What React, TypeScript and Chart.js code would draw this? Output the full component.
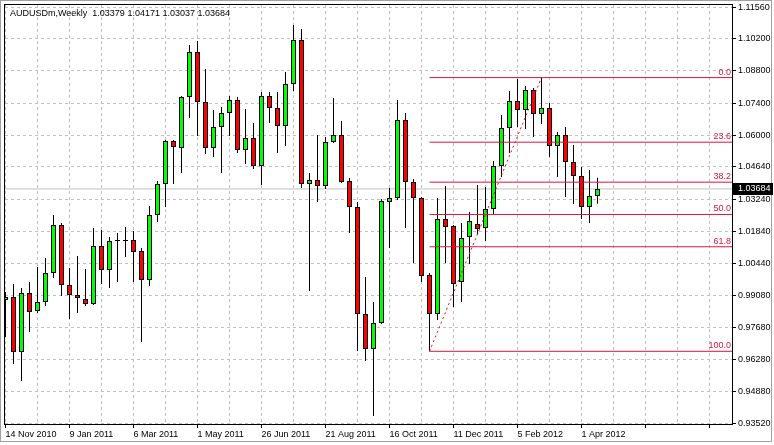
import React, { useEffect, useRef } from 'react';
import { Chart, registerables } from 'chart.js';

Chart.register(...registerables);

const symbolTitle = 'AUDUSDm,Weekly';
const xTickLabels = ['14 Nov 2010', '9 Jan 2011', '6 Mar 2011', '1 May 2011', '26 Jun 2011', '21 Aug 2011', '16 Oct 2011', '11 Dec 2011', '5 Feb 2012', '1 Apr 2012'];
const yTickValues = [1.1156, 1.102, 1.088, 1.074, 1.06, 1.0464, 1.0324, 1.0184, 1.0044, 0.9908, 0.9768, 0.9628, 0.9488, 0.9352];

const opens = [
  0.98867, 0.98997, 0.96612, 0.99171, 0.98390, 0.98781, 1.00038, 1.02120, 0.99518, 0.99084,
  0.98911, 0.98694, 1.01209, 1.00168, 1.01426, 1.01426, 1.01469, 1.00992, 0.99735, 1.02553,
  1.03898, 1.05762, 1.05459, 1.07671, 1.09622, 1.07454, 1.05459, 1.06370, 1.06977, 1.07540,
  1.05372, 1.05893, 1.04678, 1.07714, 1.07194, 1.06413, 1.08234, 1.10142, 1.03898, 1.04071,
  1.03811, 1.05719, 1.06023, 1.04028, 1.02900, 0.98260, 0.96742, 0.97870, 1.03117, 1.03291,
  1.06673, 1.03984, 1.03291, 0.99951, 0.98260, 1.02380, 1.02076, 0.99648, 1.01599, 1.02163,
  1.01990, 1.02814, 1.04678, 1.06326, 1.07497, 1.07107, 1.07974, 1.06933, 1.07194, 1.05546,
  1.06023, 1.04852, 1.04245, 1.02900, 1.03379,
];
const highs = [
  0.99214, 0.99561, 0.99388, 0.99648, 1.00298, 1.00689, 1.02553, 1.02206, 1.00255, 1.00775,
  1.00212, 1.01990, 1.01903, 1.01599, 1.01773, 1.02033, 1.01860, 1.01122, 1.02944, 1.04028,
  1.05806, 1.05806, 1.07714, 1.09926, 1.10099, 1.08885, 1.07107, 1.07237, 1.07714, 1.07671,
  1.07150, 1.06543, 1.07887, 1.07887, 1.07887, 1.08755, 1.10793, 1.10619, 1.04375, 1.06023,
  1.05936, 1.07627, 1.06630, 1.04158, 1.03117, 0.99865, 0.98781, 1.03247, 1.03724, 1.07540,
  1.06977, 1.04115, 1.03334, 1.00038, 1.03291, 1.03811, 1.02120, 1.02206, 1.02683, 1.03854,
  1.03768, 1.04895, 1.06890, 1.07931, 1.08451, 1.08148, 1.08061, 1.08511, 1.07410, 1.06153,
  1.06370, 1.05589, 1.04635, 1.04505, 1.04171,
];
const lows = [
  0.97263, 0.96092, 0.95355, 0.97480, 0.98303, 0.98607, 0.99821, 0.99041, 0.98043, 0.98303,
  0.98607, 0.98650, 0.99561, 0.99388, 0.99648, 1.00732, 0.99648, 0.97046, 0.99474, 1.02250,
  1.02900, 1.03898, 1.04375, 1.06760, 1.05979, 1.05199, 1.05069, 1.04375, 1.05979, 1.05242,
  1.04765, 1.04548, 1.03854, 1.06543, 1.05242, 1.05546, 1.07931, 1.03724, 0.99258, 1.03117,
  1.03681, 1.05676, 1.03941, 1.01773, 0.96656, 0.96222, 0.93837, 0.97826, 1.01122, 1.03204,
  1.01990, 1.00472, 0.99648, 0.96642, 0.98000, 1.00472, 0.98564, 0.98781, 1.00428, 1.01729,
  1.01426, 1.02553, 1.04201, 1.05242, 1.06370, 1.06283, 1.05936, 1.06500, 1.05069, 1.04201,
  1.03334, 1.03030, 1.02380, 1.02206, 1.03037,
];
const closes = [
  0.98997, 0.96612, 0.99171, 0.98347, 0.98781, 1.00038, 1.02120, 0.99518, 0.99084, 0.98954,
  0.98694, 1.01209, 1.00168, 1.01426, 1.01426, 1.01426, 1.00949, 0.99735, 1.02553, 1.03898,
  1.05762, 1.05502, 1.07671, 1.09622, 1.07454, 1.05459, 1.06370, 1.06977, 1.07540, 1.05372,
  1.05893, 1.04678, 1.07714, 1.07194, 1.06413, 1.08234, 1.10142, 1.03898, 1.04071, 1.03811,
  1.05719, 1.06023, 1.03984, 1.02900, 0.98260, 0.96742, 0.97870, 1.03160, 1.03291, 1.06673,
  1.03984, 1.03291, 0.99908, 0.98260, 1.02380, 1.02033, 0.99561, 1.01556, 1.02293, 1.01946,
  1.02814, 1.04678, 1.06326, 1.07497, 1.07107, 1.07974, 1.06933, 1.07194, 1.05546, 1.06023,
  1.04852, 1.04245, 1.02900, 1.03377, 1.03684,
];

const fibLevels = [0, 23.6, 38.2, 50, 61.8, 100];
const fibLowIndex = 53;
const fibHighIndex = 67;

const X_MIN = -0.1875;
const X_MAX = 90.9375;
const Y_MIN = 0.934896;
const Y_MAX = 1.117031;

const UP = '#00ff00';
const DOWN = '#ff0000';
const FIB = '#dc143c';
const GRID = '#c0c0c0';
const FONT = '"Liberation Sans", Arial, sans-serif';

export default function App() {
  const ref = useRef<HTMLCanvasElement>(null);

  useEffect(() => {
    const canvas = ref.current;
    if (!canvas) return;
    const idx = opens.map((_, i) => i);
    const bodyData = idx.map((i) => ({ x: i, y: [opens[i], closes[i]] }));
    const wickData = idx.map((i) => ({ x: i, y: [lows[i], highs[i]] }));
    const bodyColors = idx.map((i) => (closes[i] >= opens[i] ? UP : DOWN));
    const fibHigh = highs[fibHighIndex];
    const fibLow = lows[fibLowIndex];
    const fibValues = fibLevels.map((p) => fibHigh - (p / 100) * (fibHigh - fibLow));
    const last = opens.length - 1;
    const lastClose = closes[last];
    const xGrid: number[] = [];
    for (let k = 0; k * 4 <= X_MAX; k++) xGrid.push(k * 4);

    const overlay = {
      id: 'mt4overlay',
      beforeDraw(chart: any) {
        const ctx = chart.ctx;
        ctx.save();
        ctx.fillStyle = '#ffffff';
        ctx.fillRect(0, 0, chart.width, chart.height);
        ctx.strokeStyle = '#a0a0a0';
        ctx.lineWidth = 1;
        ctx.strokeRect(0.5, 0.5, 771, 441);
        ctx.restore();
      },
      beforeDatasetsDraw(chart: any) {
        const ctx = chart.ctx;
        const a = chart.chartArea;
        const xs = chart.scales.x;
        const ys = chart.scales.y;
        ctx.save();
        ctx.lineWidth = 1;
        ctx.strokeStyle = GRID;
        ctx.setLineDash([3, 3]);
        ctx.beginPath();
        xs.ticks.forEach((t: any) => {
          const px = Math.floor(xs.getPixelForValue(t.value)) + 0.5;
          ctx.moveTo(px, a.top + 1);
          ctx.lineTo(px, a.bottom);
        });
        ys.ticks.forEach((t: any) => {
          const py = Math.round(ys.getPixelForValue(t.value) - 0.5) + 0.5;
          ctx.moveTo(a.left + 1, py);
          ctx.lineTo(a.right - 1, py);
        });
        ctx.stroke();
        ctx.setLineDash([]);
        ctx.strokeStyle = '#000';
        ctx.beginPath();
        xs.ticks.forEach((t: any) => {
          if (t.value % 8 !== 0) return;
          const px = Math.floor(xs.getPixelForValue(t.value)) + 0.5;
          ctx.moveTo(px, a.bottom);
          ctx.lineTo(px, a.bottom + 4);
        });
        ys.ticks.forEach((t: any) => {
          const py = Math.round(ys.getPixelForValue(t.value) - 0.5) + 0.5;
          ctx.moveTo(a.right, py);
          ctx.lineTo(a.right + 3, py);
        });
        ctx.stroke();
        ctx.restore();
      },
      afterDatasetsDraw(chart: any) {
        const ctx = chart.ctx;
        const a = chart.chartArea;
        const ys = chart.scales.y;
        ctx.save();
        ctx.strokeStyle = '#000';
        ctx.lineWidth = 1;
        ctx.strokeRect(a.left + 0.5, a.top + 0.5, a.right - a.left - 1, a.bottom - a.top);
        ctx.font = '9px ' + FONT;
        ctx.fillStyle = FIB;
        ctx.textAlign = 'right';
        ctx.textBaseline = 'alphabetic';
        fibLevels.forEach((p, i) => {
          const y = ys.getPixelForValue(fibValues[i]);
          ctx.fillText(p.toFixed(1), a.right - 2, y - 3);
        });
        ctx.restore();
      },
      afterDraw(chart: any) {
        const ctx = chart.ctx;
        const a = chart.chartArea;
        const ys = chart.scales.y;
        ctx.save();
        ctx.font = '9px ' + FONT;
        ctx.fillStyle = '#000';
        ctx.textAlign = 'left';
        ctx.textBaseline = 'alphabetic';
        const header = symbolTitle + '  ' + [opens[last], highs[last], lows[last], closes[last]].map((v) => v.toFixed(5)).join(' ');
        ctx.fillText(header, a.left + 6, 16);
        const py = Math.round(ys.getPixelForValue(lastClose));
        ctx.fillStyle = '#000';
        ctx.fillRect(a.right, py - 6, 40, 12);
        ctx.fillStyle = '#fff';
        ctx.textBaseline = 'middle';
        ctx.fillText(lastClose.toFixed(5), a.right + 5, py);
        ctx.restore();
      },
    };

    const datasets: any[] = [
      {
        type: 'bar',
        data: bodyData,
        backgroundColor: bodyColors,
        borderColor: '#000',
        borderWidth: 1,
        borderSkipped: false,
        barThickness: 5,
        minBarLength: 1,
        inflateAmount: 0,
        grouped: false,
        order: 1,
      },
      {
        type: 'bar',
        data: wickData,
        backgroundColor: '#000',
        borderWidth: 0,
        barThickness: 1,
        inflateAmount: 0,
        grouped: false,
        order: 2,
      },
      ...fibValues.map((v) => ({
        type: 'line',
        data: [{ x: fibLowIndex, y: v }, { x: X_MAX, y: v }],
        borderColor: FIB,
        borderWidth: 1,
        pointRadius: 0,
        order: 0,
      })),
      {
        type: 'line',
        data: [{ x: fibLowIndex, y: fibLow }, { x: fibHighIndex, y: fibHigh }],
        borderColor: '#ff0000',
        borderWidth: 1,
        borderDash: [2, 3],
        pointRadius: 0,
        order: 0,
      },
      {
        type: 'line',
        data: [{ x: X_MIN, y: lastClose }, { x: X_MAX, y: lastClose }],
        borderColor: GRID,
        borderWidth: 1,
        pointRadius: 0,
        order: 3,
      },
    ];

    const chart = new Chart(canvas, {
      type: 'bar',
      data: { datasets },
      plugins: [overlay],
      options: {
        animation: false,
        responsive: false,
        devicePixelRatio: 1,
        events: [],
        layout: { padding: { left: 4, top: 4, right: 0, bottom: 0 }, autoPadding: false },
        plugins: { legend: { display: false }, tooltip: { enabled: false }, title: { display: false } },
        scales: {
          x: {
            type: 'linear',
            position: 'bottom',
            min: X_MIN,
            max: X_MAX,
            offset: false,
            afterBuildTicks: (s: any) => {
              s.ticks = xGrid.map((v) => ({ value: v }));
            },
            afterFit: (s: any) => {
              s.height = 21;
              s.paddingLeft = 0;
              s.paddingRight = 0;
            },
            ticks: {
              autoSkip: false,
              maxRotation: 0,
              minRotation: 0,
              align: 'start',
              padding: 2,
              color: '#000',
              font: { family: FONT, size: 9 },
              callback: (v: any) => {
                const n = Number(v);
                return n % 8 === 0 ? xTickLabels[n / 8] ?? '' : '';
              },
            },
            grid: { display: true, drawTicks: true, tickLength: 3, color: 'rgba(0,0,0,0)', tickColor: 'rgba(0,0,0,0)' },
            border: { display: false },
          } as any,
          y: {
            type: 'linear',
            position: 'right',
            min: Y_MIN,
            max: Y_MAX,
            afterBuildTicks: (s: any) => {
              s.ticks = yTickValues.map((v) => ({ value: v }));
            },
            afterFit: (s: any) => {
              s.width = 41;
              s.paddingTop = 0;
              s.paddingBottom = 0;
            },
            ticks: {
              autoSkip: false,
              padding: 2,
              color: '#000',
              font: { family: FONT, size: 9 },
              callback: (v: any) => Number(v).toFixed(5),
            },
            grid: { display: true, drawTicks: true, tickLength: 3, color: 'rgba(0,0,0,0)', tickColor: 'rgba(0,0,0,0)' },
            border: { display: false },
          } as any,
        },
      } as any,
    });
    return () => chart.destroy();
  }, []);

  return (
    <div style={{ position: 'absolute', left: 0, top: 0, width: 774, height: 445 }}>
      <canvas ref={ref} width={774} height={445} style={{ display: 'block', width: 774, height: 445 }} />
    </div>
  );
}
